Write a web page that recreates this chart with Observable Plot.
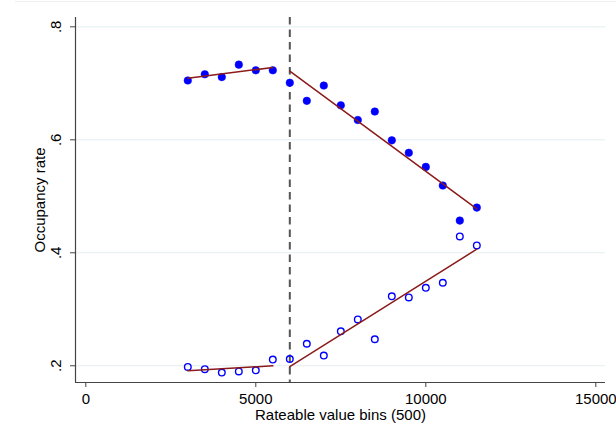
<!DOCTYPE html>
<html>
<head>
<meta charset="utf-8">
<script src="https://cdn.jsdelivr.net/npm/d3@7"></script>
<script src="https://cdn.jsdelivr.net/npm/@observablehq/plot@0.6"></script>
<style>
  html, body { margin: 0; padding: 0; background: #fff; }
  #wrap { position: relative; width: 616px; height: 439px; }
  #chart svg { display: block; }
  #edge { position: absolute; top: 1px; left: 15px; right: 0; height: 0; border-top: 1px solid #eeeeee; pointer-events: none; }
</style>
</head>
<body>
<div id="wrap"><div id="chart"></div><div id="edge"></div></div>
<script>
// Rateable value bins (500)
const bins = [3000, 3500, 4000, 4500, 5000, 5500, 6000, 6500, 7000, 7500, 8000, 8500, 9000, 9500, 10000, 10500, 11000, 11500];
// Occupancy rate, filled markers
const seriesFilled = [0.705, 0.716, 0.711, 0.733, 0.723, 0.723, 0.701, 0.669, 0.696, 0.661, 0.635, 0.650, 0.599, 0.577, 0.552, 0.519, 0.457, 0.480];
// Occupancy rate, hollow markers
const seriesHollow = [0.198, 0.194, 0.188, 0.190, 0.192, 0.211, 0.212, 0.239, 0.218, 0.261, 0.282, 0.247, 0.323, 0.321, 0.338, 0.347, 0.429, 0.413];
// Threshold
const cutoff = 6000;
const xTicks = [0, 5000, 10000, 15000];
const yTicks = [0.2, 0.4, 0.6, 0.8];
const xDomain = [-303, 15285];
const yDomain = [0.1704, 0.8165];

const filled = bins.map((x, i) => ({x, y: seriesFilled[i], side: x < cutoff ? "below" : "above"}));
const hollow = bins.map((x, i) => ({x, y: seriesHollow[i], side: x < cutoff ? "below" : "above"}));

const fmt = d => d3.format(".1f")(d).replace(/^0/, "");
const axisColor = "#444";
const fitColor = "#8b1a1a";
const fs = 15;

const chart = Plot.plot({
  width: 616,
  height: 439,
  marginLeft: 75,
  marginRight: 11,
  marginTop: 17,
  marginBottom: 57,
  style: {fontFamily: "'Liberation Sans', Arial, sans-serif", fontSize: "15px", color: "#000", background: "#fff"},
  x: {domain: xDomain},
  y: {domain: yDomain},
  marks: [
    Plot.gridY(yTicks, {stroke: "#e4eef0", strokeOpacity: 1, strokeWidth: 1}),
    Plot.ruleX([xDomain[0]], {stroke: axisColor, strokeWidth: 1.2}),
    Plot.ruleY([yDomain[0]], {stroke: axisColor, strokeWidth: 1.2}),
    Plot.axisX(xTicks, {tickSize: 5, tickPadding: 5.5, tickFormat: d => String(d), stroke: axisColor, fill: "#000", fontSize: fs, label: null}),
    Plot.axisY(yTicks, {tickSize: 5, text: null, stroke: axisColor, label: null}),
    Plot.text(yTicks, {y: d => d, text: d => fmt(d), frameAnchor: "left", rotate: -90, dx: -15, lineAnchor: "bottom", textAnchor: "middle", fontSize: fs, fill: "#000"}),
    Plot.text(["Rateable value bins (500)"], {frameAnchor: "bottom", dy: 37.5, lineAnchor: "bottom", textAnchor: "middle", fontSize: fs, fill: "#000"}),
    Plot.text(["Occupancy rate"], {frameAnchor: "left", rotate: -90, dx: -31, lineAnchor: "bottom", textAnchor: "middle", fontSize: fs, fill: "#000"}),
    Plot.ruleX([cutoff], {stroke: "#555", strokeWidth: 2, strokeDasharray: "7.5,5"}),
    Plot.dot(filled, {x: "x", y: "y", r: 3.8, fill: "blue", stroke: "blue", strokeWidth: 0.5}),
    Plot.dot(hollow, {x: "x", y: "y", r: 3.3, fill: "none", stroke: "blue", strokeWidth: 1.4}),
    Plot.linearRegressionY(filled, {x: "x", y: "y", z: "side", stroke: fitColor, strokeWidth: 1.5, ci: 0}),
    Plot.linearRegressionY(hollow, {x: "x", y: "y", z: "side", stroke: fitColor, strokeWidth: 1.5, ci: 0})
  ]
});
document.getElementById("chart").appendChild(chart);
</script>
</body>
</html>
